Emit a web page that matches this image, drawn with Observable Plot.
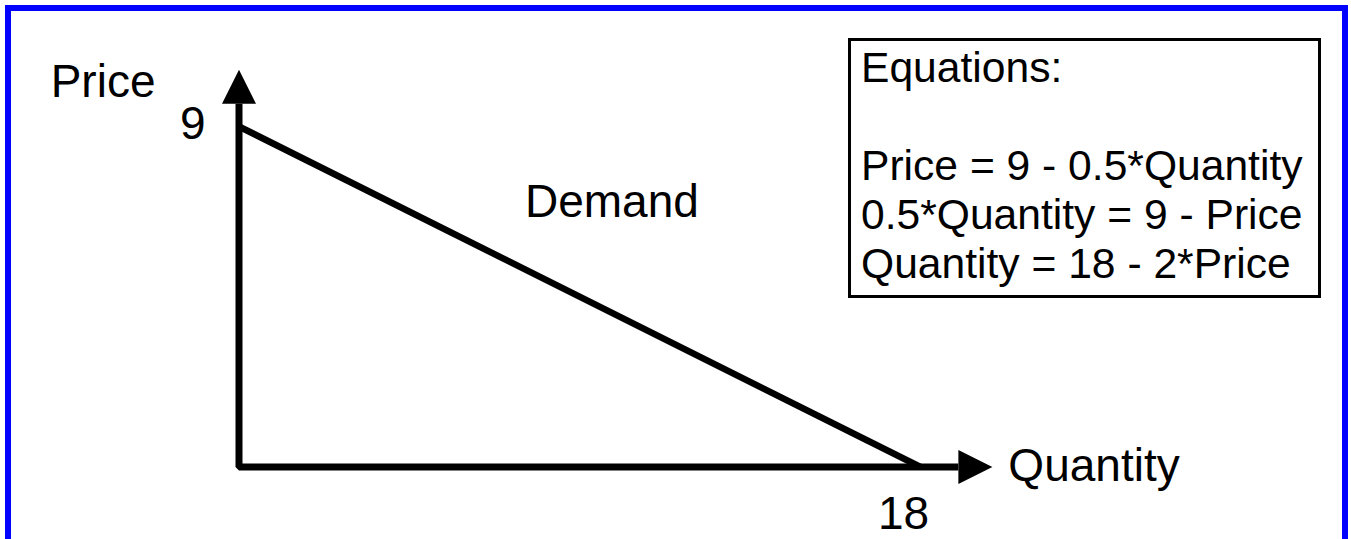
<!DOCTYPE html>
<html><head><meta charset="utf-8">
<script src="https://cdn.jsdelivr.net/npm/d3@7"></script>
<script src="https://cdn.jsdelivr.net/npm/@observablehq/plot@0.6"></script>
<style>
html,body{margin:0;padding:0;background:#fff;overflow:hidden;}
#wrap{position:relative;width:1351px;height:539px;overflow:hidden;}
#wrap svg{position:absolute;left:0;top:0;}
#frame{position:absolute;left:5px;top:5px;width:1343px;height:620px;border:6px solid #0000ff;box-sizing:border-box;pointer-events:none;}
#eq{position:absolute;left:848px;top:38px;width:473px;height:260px;border:3px solid #000;box-sizing:border-box;
  font:42.6px "Liberation Sans", Arial, sans-serif;line-height:49px;padding:2px 0 0 10px;white-space:pre;color:#000;}
</style>
</head><body>
<div id="wrap"><div id="frame"></div><div id="eq"></div></div>
<script>
// Demand curve end points
const quantity = [0, 18];
const price = [9, 0];
// Axis extents (arrow bases), in data units
const axisMaxQuantity = 19;
const axisMaxPrice = 9.6;
// Tick labels
const priceTicks = [9];
const quantityTicks = [18];
// Labels
const axisTitles = ["Price", "Quantity"];
const curveLabel = ["Demand"];
const curveLabelPos = [9.85, 6.6]; // [quantity, price]
const equationLines = ["Equations:", "", "Price = 9 - 0.5*Quantity", "0.5*Quantity = 9 - Price", "Quantity = 18 - 2*Price"];

const demand = quantity.map((q, i) => ({q, p: price[i]}));
const axisPath = [{q: 0, p: axisMaxPrice}, {q: 0, p: 0}, {q: axisMaxQuantity, p: 0}];

const arrowUp = {draw(ctx, size) { const r = Math.sqrt(size / Math.PI);
  ctx.moveTo(0, -2 * r); ctx.lineTo(r, 0); ctx.lineTo(-r, 0); ctx.closePath(); }};
const arrowRight = {draw(ctx, size) { const r = Math.sqrt(size / Math.PI);
  ctx.moveTo(2 * r, 0); ctx.lineTo(0, -r); ctx.lineTo(0, r); ctx.closePath(); }};

const font = "'Liberation Sans', Arial, sans-serif";
const fs = 46;

const chart = Plot.plot({
  width: 1351, height: 539,
  marginLeft: 238.5, marginRight: 431, marginTop: 126, marginBottom: 72.5,
  x: {domain: [0, 18], axis: null},
  y: {domain: [0, 9], axis: null},
  style: {fontFamily: font, background: "transparent", overflow: "visible"},
  marks: [
    Plot.line(axisPath, {x: "q", y: "p", stroke: "black", strokeWidth: 7, strokeLinejoin: "miter", strokeLinecap: "butt"}),
    Plot.dot([{q: 0, p: axisMaxPrice}], {x: "q", y: "p", r: 17, symbol: arrowUp, fill: "black", stroke: "none"}),
    Plot.dot([{q: axisMaxQuantity, p: 0}], {x: "q", y: "p", r: 17, symbol: arrowRight, fill: "black", stroke: "none"}),
    Plot.line(demand, {x: "q", y: "p", stroke: "black", strokeWidth: 6.5, strokeLinecap: "butt"}),
    Plot.text(priceTicks, {x: 0, y: d => d, text: d => String(d), textAnchor: "end", lineAnchor: "bottom", dx: -33.5, dy: 12, fontSize: fs, fill: "black"}),
    Plot.text(quantityTicks, {x: d => d, y: 0, text: d => String(d), textAnchor: "middle", lineAnchor: "bottom", dx: -17, dy: 61.5, fontSize: fs, fill: "black"}),
    Plot.text([axisTitles[0]], {x: 0, y: 9, text: d => d, textAnchor: "end", lineAnchor: "bottom", dx: -83.5, dy: -30, fontSize: fs, fill: "black"}),
    Plot.text([axisTitles[1]], {x: axisMaxQuantity, y: 0, text: d => d, textAnchor: "start", lineAnchor: "bottom", dx: 50, dy: 13.5, fontSize: fs, fill: "black"}),
    Plot.text(curveLabel, {x: () => curveLabelPos[0], y: () => curveLabelPos[1], text: d => d, textAnchor: "middle", lineAnchor: "bottom", fontSize: fs, fill: "black"})
  ]
});
document.getElementById("wrap").prepend(chart);
document.getElementById("eq").textContent = equationLines.join("\n");
</script>
</body></html>
